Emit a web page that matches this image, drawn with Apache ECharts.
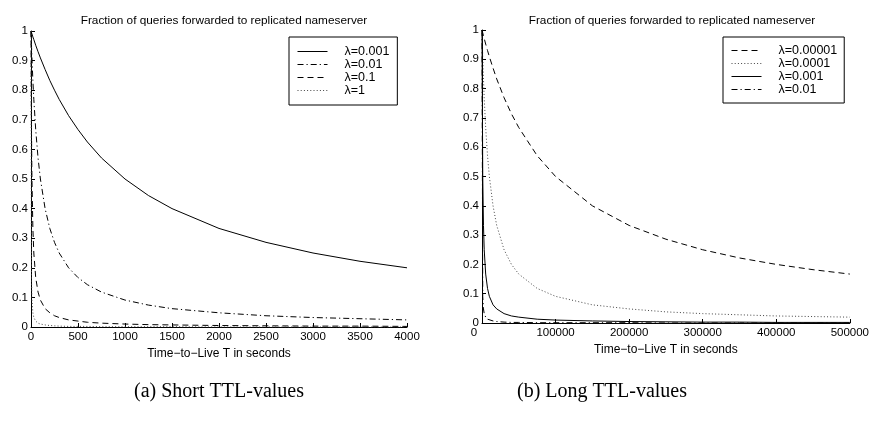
<!DOCTYPE html>
<html><head><meta charset="utf-8">
<script src="https://cdn.jsdelivr.net/npm/echarts@6/dist/echarts.min.js"></script>
<style>html,body{margin:0;padding:0;background:#fff}#c{width:872px;height:425px}</style>
</head><body><div id="c"></div>
<script>
// Panel (a): short TTL values
const ttlShort = [0,5,10,20,30,50,75,100,150,200,250,300,400,500,600,750,1000,1250,1500,2000,2500,3000,3500,4000];
const shortL0001 = [1,0.995,0.99,0.98,0.971,0.952,0.93,0.909,0.87,0.833,0.8,0.769,0.714,0.667,0.625,0.571,0.5,0.444,0.4,0.333,0.286,0.25,0.222,0.2];
const shortL001  = [1,0.952,0.909,0.833,0.769,0.667,0.571,0.5,0.4,0.333,0.286,0.25,0.2,0.167,0.143,0.118,0.091,0.074,0.062,0.048,0.038,0.032,0.028,0.024];
const shortL01   = [1,0.667,0.5,0.333,0.25,0.167,0.118,0.091,0.062,0.048,0.038,0.032,0.024,0.02,0.016,0.013,0.01,0.008,0.007,0.005,0.004,0.003,0.003,0.002];
const shortL1    = [1,0.167,0.091,0.048,0.032,0.02,0.013,0.01,0.007,0.005,0.004,0.003,0.002,0.002,0.002,0.001,0.001,0.001,0.001,0,0,0,0,0];
const shortNames = ['λ=0.001','λ=0.01','λ=0.1','λ=1'];

// Panel (b): long TTL values
const ttlLong = [0,1000,2000,3000,5000,7500,10000,15000,20000,30000,40000,50000,75000,100000,150000,200000,250000,300000,350000,400000,450000,500000];
const longL00001 = [1,0.99,0.98,0.971,0.952,0.93,0.909,0.87,0.833,0.769,0.714,0.667,0.571,0.5,0.4,0.333,0.286,0.25,0.222,0.2,0.182,0.167];
const longL0001  = [1,0.909,0.833,0.769,0.667,0.571,0.5,0.4,0.333,0.25,0.2,0.167,0.118,0.091,0.062,0.048,0.038,0.032,0.028,0.024,0.022,0.02];
const longL001   = [1,0.5,0.333,0.25,0.167,0.118,0.091,0.062,0.048,0.032,0.024,0.02,0.013,0.01,0.007,0.005,0.004,0.003,0.003,0.002,0.002,0.002];
const longL01    = [1,0.091,0.048,0.032,0.02,0.013,0.01,0.007,0.005,0.003,0.002,0.002,0.001,0.001,0.001,0.001,0,0,0,0,0,0];
const longNames = ['λ=0.00001','λ=0.0001','λ=0.001','λ=0.01'];

const titleText = 'Fraction of queries forwarded to replicated nameserver';
const axisNameText = 'Time\u2212to\u2212Live T in seconds';
const captions = ['(a) Short TTL-values', '(b) Long TTL-values'];

const FONT = 'Liberation Sans, Arial, Helvetica, sans-serif';
const SERIF = 'Liberation Serif, Times New Roman, serif';
const SOLID = 'solid', DASH = [6,4], DASHDOT = [6,3,1.2,3], DOT = [1,2.2];

function pairs(xs, ys){ return xs.map((x,i)=>[x, ys[i]]); }
function line(name, xs, ys, idx, type, color){
  return {name, type:'line', xAxisIndex:idx, yAxisIndex:idx, data:pairs(xs,ys),
    symbol:'none', showSymbol:false, smooth:false, silent:true,
    lineStyle:{color:color||'#000', width:1, type},
    itemStyle:{color:'rgba(0,0,0,0)', borderWidth:0}};
}
function xAxis(idx, max, interval, shiftZero){
  return {type:'value', gridIndex:idx, min:0, max, interval,
    name: axisNameText, nameLocation:'middle', nameGap: idx===0?15:14,
    nameTextStyle:{fontFamily:FONT, fontSize:12, color:'#000'},
    axisLine:{show:true, onZero:false, lineStyle:{color:'#000', width:1}},
    axisTick:{show:true, inside:true, length:4, lineStyle:{color:'#000'}},
    splitLine:{show:false},
    axisLabel:{color:'#000', fontFamily:FONT, fontSize:11.5, margin:4, showMinLabel:true, showMaxLabel:true,
      formatter: shiftZero ? (v=> v===0 ? '{z|0}' : String(v)) : (v=>String(v)),
      rich: {z:{fontFamily:FONT, fontSize:11.5, color:'#000', padding:[0,16,0,0]}}}
  };
}
function yAxis(idx){
  return {type:'value', gridIndex:idx, min:0, max:1, interval:0.1,
    axisLine:{show:true, onZero:false, lineStyle:{color:'#000', width:1}},
    axisTick:{show:true, inside:true, length:4, lineStyle:{color:'#000'}},
    splitLine:{show:false},
    axisLabel:{color:'#000', fontFamily:FONT, fontSize:11.5, margin:3,
      formatter: v => (Math.round(v*10)/10).toString()}
  };
}
function legend(names, left, top, pad){
  return {orient:'vertical', left, top, data:names,
    itemWidth:30, itemHeight:10, itemGap:0,
    borderColor:'#000', borderWidth:1, padding:pad, backgroundColor:'#fff',
    selectedMode:false,
    lineStyle:{width:1},
    textStyle:{fontFamily:FONT, fontSize:12.5, lineHeight:13, color:'#000', padding:[0,0,0,12]}};
}

const chart = echarts.init(document.getElementById('c'), null, {renderer:'canvas'});
chart.setOption({
  animation:false,
  backgroundColor:'#fff',
  title:[
    {text:titleText, left:219, top:10, textAlign:'center', textStyle:{fontFamily:FONT, fontSize:11.8, fontWeight:'normal', color:'#000'}},
    {text:titleText, left:667, top:10, textAlign:'center', textStyle:{fontFamily:FONT, fontSize:11.8, fontWeight:'normal', color:'#000'}}
  ],
  grid:[
    {left:31, right:465, top:31, bottom:98, containLabel:false},
    {left:482, right:19, top:30, bottom:102, containLabel:false}
  ],
  xAxis:[xAxis(0,4000,500,false), xAxis(1,500000,100000,true)],
  yAxis:[yAxis(0), yAxis(1)],
  legend:[legend(shortNames, 289, 37, [8,8,8,8]), legend(longNames, 723, 37, [7,7,7,8])],
  series:[
    line(shortNames[0], ttlShort, shortL0001, 0, SOLID),
    line(shortNames[1], ttlShort, shortL001, 0, DASHDOT),
    line(shortNames[2], ttlShort, shortL01, 0, DASH),
    line(shortNames[3], ttlShort, shortL1, 0, DOT, '#444'),
    line(longNames[0], ttlLong, longL00001, 1, DASH),
    line(longNames[1], ttlLong, longL0001, 1, DOT, '#444'),
    line(longNames[2], ttlLong, longL001, 1, SOLID),
    line(longNames[3], ttlLong, longL01, 1, DASHDOT)
  ],
  graphic:[
    {type:'text', x:219, y:392, style:{text:captions[0], font:'20px ' + SERIF, fill:'#000', align:'center', verticalAlign:'middle'}},
    {type:'text', x:602, y:392, style:{text:captions[1], font:'20px ' + SERIF, fill:'#000', align:'center', verticalAlign:'middle'}}
  ]
});
</script></body></html>
